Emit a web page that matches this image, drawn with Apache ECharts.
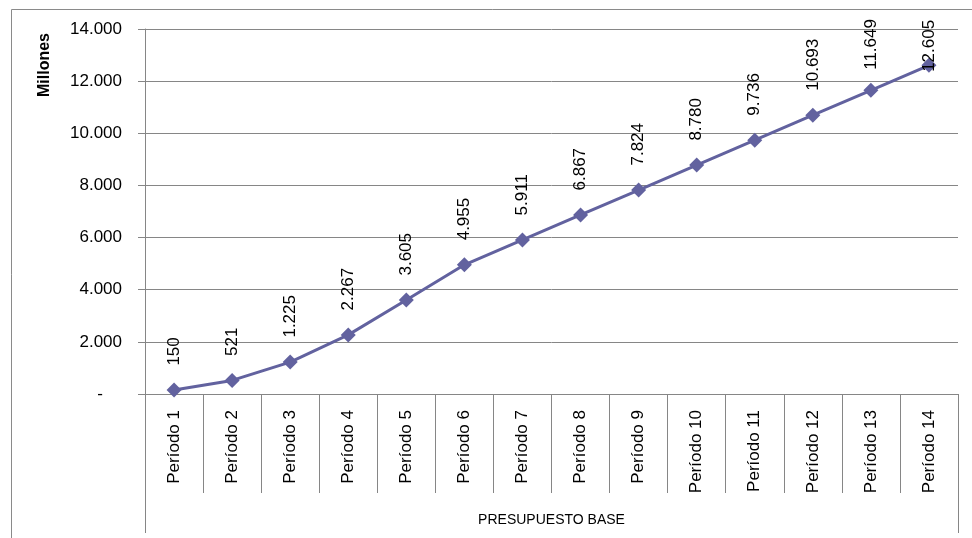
<!DOCTYPE html>
<html>
<head>
<meta charset="utf-8">
<script src="https://cdn.jsdelivr.net/npm/echarts@6/dist/echarts.min.js"></script>
<style>
html,body{margin:0;padding:0;background:#fff;}
#chart{width:972px;height:538px;}
</style>
</head>
<body>
<div id="chart"></div>
<script>
const categories = ['Período 1','Período 2','Período 3','Período 4','Período 5','Período 6','Período 7','Período 8','Período 9','Período 10','Período 11','Período 12','Período 13','Período 14'];
const values = [150, 521, 1225, 2267, 3605, 4955, 5911, 6867, 7824, 8780, 9736, 10693, 11649, 12605];
const groupLabels = ['PRESUPUESTO BASE'];
const yTicks = {min: 0, max: 14000, interval: 2000};
const yAxisTitle = 'Millones';

const FONT = 'Liberation Sans';
const GRAY = '#868686';
const LINE = '#62629f';

function fmt(v) {
  return String(v).replace(/\B(?=(\d{3})+(?!\d))/g, '.');
}

// label offsets are in the rotated label frame: negative x moves the label down
const seriesData = values.map((v, i) => {
  if (i === values.length - 1) return {value: v, label: {offset: [-31, 0]}};
  if (i === values.length - 2) return {value: v, label: {offset: [-4, 0]}};
  return v;
});

const chart = echarts.init(document.getElementById('chart'), null, {renderer: 'canvas'});
chart.setOption({
  animation: false,
  backgroundColor: '#fff',
  textStyle: {fontFamily: FONT},
  grid: {left: 145, right: 14, top: 29, bottom: 144, containLabel: false},
  graphic: [
    {type: 'rect', left: 9, top: 7, shape: {x: 0.5, y: 0.5, width: 1200, height: 800}, style: {fill: 'none', stroke: '#8a8a8a', lineWidth: 1}, silent: true, z: -1},
    {type: 'text', x: 45, y: 65, rotation: Math.PI / 2, style: {text: yAxisTitle, fontFamily: FONT, fontSize: 16, fontWeight: 'bold', fill: '#000', align: 'center', verticalAlign: 'middle'}}
  ],
  xAxis: [
    {
      type: 'category',
      data: categories,
      position: 'bottom',
      boundaryGap: true,
      axisLine: {show: true, lineStyle: {color: GRAY, width: 1}},
      axisTick: {show: true, interval: 0, length: 99, lineStyle: {color: GRAY, width: 1}},
      axisLabel: {interval: 0, rotate: 90, margin: 16, fontFamily: FONT, fontSize: 17, color: '#000'},
      splitLine: {show: false}
    },
    {
      type: 'category',
      data: groupLabels,
      position: 'bottom',
      gridIndex: 0,
      boundaryGap: true,
      axisLine: {show: false},
      axisTick: {show: true, interval: 0, length: 139, lineStyle: {color: GRAY, width: 1}},
      axisLabel: {interval: 0, margin: 119, fontFamily: FONT, fontSize: 14, color: '#000'},
      splitLine: {show: false}
    }
  ],
  yAxis: {
    type: 'value',
    min: yTicks.min,
    max: yTicks.max,
    interval: yTicks.interval,
    axisLine: {show: true, lineStyle: {color: GRAY, width: 1}},
    axisTick: {show: true, length: 7, lineStyle: {color: GRAY, width: 1}},
    splitLine: {show: true, lineStyle: {color: GRAY, width: 1}},
    axisLabel: {
      margin: 23,
      fontFamily: FONT,
      fontSize: 17,
      color: '#000',
      formatter: v => v === 0 ? '{d|-}' : fmt(v),
      rich: {d: {fontFamily: FONT, fontSize: 17, color: '#000', padding: [0, 19, 0, 0]}}
    }
  },
  series: [{
    type: 'line',
    xAxisIndex: 0,
    data: seriesData,
    symbol: 'diamond',
    symbolSize: 15,
    itemStyle: {color: LINE},
    lineStyle: {color: LINE, width: 3},
    label: {
      show: true,
      position: 'top',
      distance: 17,
      rotate: 90,
      align: 'left',
      verticalAlign: 'middle',
      fontFamily: FONT,
      fontSize: 17,
      color: '#000',
      formatter: p => fmt(p.value)
    }
  }]
});
</script>
</body>
</html>
